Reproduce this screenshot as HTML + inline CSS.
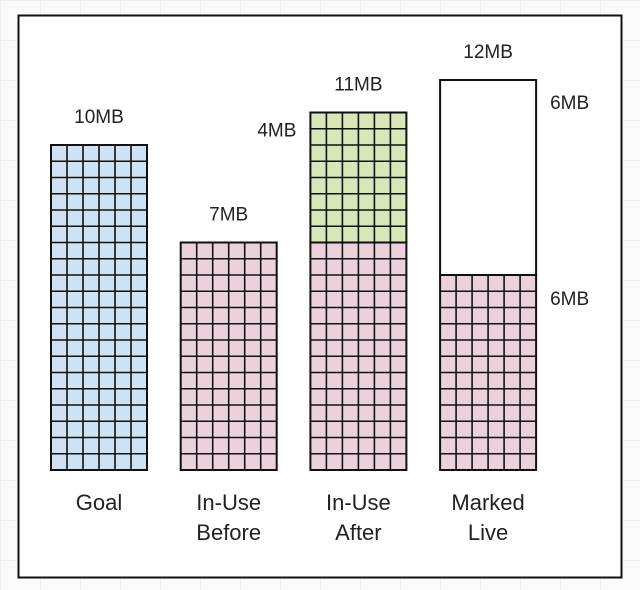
<!DOCTYPE html>
<html><head><meta charset="utf-8"><style>
body{margin:0;width:640px;height:590px;overflow:hidden;background:#fafafa;
background-image:linear-gradient(#eee 1px,transparent 1px),linear-gradient(90deg,#eee 1px,transparent 1px);background-size:40px 40px;}
svg{position:absolute;left:0;top:0}
text{font-family:"Liberation Sans",sans-serif;fill:#222}
</style></head><body>
<svg width="640" height="590">
<rect x="18.5" y="15.5" width="603" height="562" fill="#fff" stroke="#111" stroke-width="2"/>
<g id="bars"></g>
</svg>
<script>
const categories=[["Goal"],["In-Use","Before"],["In-Use","After"],["Marked","Live"]];
const baseValues=[10,7,7,6];
const baseColors=["#cfe2f3","#ead1dc","#ead1dc","#ead1dc"];
const extraValues=[0,0,4,6];
const extraColors=["none","none","#d9e7b8","#fff"];
const extraGrid=[false,false,true,false];
const totals=["10MB","7MB","11MB","12MB"];
const sideLabels=[null,null,{t:"4MB",side:"left",which:"extra"},{t:"6MB",side:"right",which:"both"}];
const baseY=470, pxPerMB=32.5, barW=96, bx0=51, step=129.7, cols=6;
const y=v=>baseY-v*pxPerMB;
const xs=i=>bx0+i*step;
const g=document.getElementById('bars');
const NS="http://www.w3.org/2000/svg";
function mk(tag,attrs){const e=document.createElementNS(NS,tag);for(const k in attrs)e.setAttribute(k,attrs[k]);g.appendChild(e);return e;}
function block(x,y0,y1,fill,grid,name){
  const r=mk('rect',{x:x,y:y1,width:barW,height:y0-y1,fill:fill,stroke:'#111','stroke-width':2});
  
  
  if(grid){
    const rows=Math.round((y0-y1)/(pxPerMB/2));
    let d='';
    for(let c=1;c<cols;c++){const xx=x+c*barW/cols;d+=`M${xx} ${y1}V${y0}`;}
    for(let r2=1;r2<rows;r2++){const yy=y0-r2*(y0-y1)/rows;d+=`M${x} ${yy}H${x+barW}`;}
    const p=mk('path',{d:d,stroke:'#111','stroke-width':1.6,fill:'none'});
    
    
  }
}
categories.forEach((cat,i)=>{
  const x=xs(i);
  block(x,y(0),y(baseValues[i]),baseColors[i],true,'bar-'+i+'-base');
  if(extraValues[i]>0) block(x,y(baseValues[i]),y(baseValues[i]+extraValues[i]),extraColors[i],extraGrid[i],'bar-'+i+'-extra');
  const top=y(baseValues[i]+extraValues[i]);
  const t=mk('text',{x:x+barW/2,y:top-22,'text-anchor':'middle','font-size':19});
  t.textContent=totals[i];
  
  
  cat.forEach((line,j)=>{
    const c=mk('text',{x:x+barW/2,y:510+j*30,'text-anchor':'middle','font-size':22});
    c.textContent=line;
    
    
  });
  const s=sideLabels[i];
  if(s){
    if(s.side==='left'){
      const l=mk('text',{x:x-14,y:y(baseValues[i]+extraValues[i])+24,'text-anchor':'end','font-size':19});
      l.textContent=s.t;
      
      
    } else {
      const l1=mk('text',{x:x+barW+14,y:y(baseValues[i]+extraValues[i])+29,'font-size':19});
      l1.textContent=s.t;
      
      
      const l2=mk('text',{x:x+barW+14,y:y(baseValues[i])+30,'font-size':19});
      l2.textContent=baseValues[i]+'MB';
      
      
    }
  }
});
</script>
</body></html>
